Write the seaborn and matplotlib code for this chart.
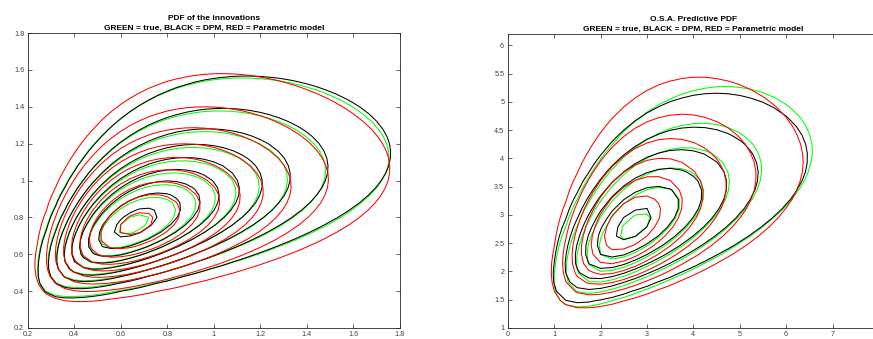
import numpy as np
import matplotlib
matplotlib.use("Agg")
import matplotlib.pyplot as plt
import seaborn as sns
from matplotlib.ticker import FormatStrFormatter

# ---- series (plot order: GREEN = true, BLACK = DPM, RED = Parametric model)
series_names = ["true", "DPM", "Parametric model"]
series_colors = ["#00ff00", "#000000", "#ff0000"]

# ---- left panel: PDF of the innovations (shifted bivariate log-normal densities)
innov_mode_x = [0.652, 0.657, 0.664]
innov_mode_y = [0.760, 0.767, 0.764]
innov_shift_x = [0.0, 0.0, -0.05]
innov_shift_y = [0.0, -0.05, -0.10]
innov_sigma_x = [0.469, 0.465, 0.440]
innov_sigma_y = [0.340, 0.322, 0.315]
innov_rho = [0.55, 0.56, 0.45]
innov_nlevels = 9
innov_top_level = [0.978, 0.955, 0.975]   # highest contour as a fraction of the peak

# ---- right panel: O.S.A. predictive PDF
pred_mode_x = [2.72, 2.68, 2.62]
pred_mode_y = [2.79, 2.82, 2.82]
pred_shift_x = [-0.4, -0.4, -0.4]
pred_shift_y = [-0.5, -0.5, -0.5]
pred_sigma_x = [0.420, 0.417, 0.412]
pred_sigma_y = [0.294, 0.277, 0.297]
pred_rho = [0.61, 0.58, 0.50]
pred_nlevels = 6
pred_top_level = [0.967, 0.956, 0.89]

titles = ["PDF of the innovations", "O.S.A. Predictive PDF"]
subtitle = "GREEN = true, BLACK = DPM, RED = Parametric model"


def lognormal_pdf(X, Y, mode_x, mode_y, shift_x, shift_y, sx, sy, rho):
    """Bivariate shifted log-normal density, parametrised by its joint mode."""
    cov = np.array([[sx * sx, rho * sx * sy], [rho * sx * sy, sy * sy]])
    m_star = np.array([np.log(mode_x - shift_x), np.log(mode_y - shift_y)])
    mu = m_star + cov.sum(axis=1)
    u = np.log(X - shift_x) - mu[0]
    v = np.log(Y - shift_y) - mu[1]
    det = np.linalg.det(cov)
    inv = np.linalg.inv(cov)
    q = inv[0, 0] * u * u + 2 * inv[0, 1] * u * v + inv[1, 1] * v * v
    return np.exp(-0.5 * q) / (2 * np.pi * np.sqrt(det)) / ((X - shift_x) * (Y - shift_y))


def auto_levels(Z, n, top):
    return Z.max() * top * np.arange(1, n + 1) / n


sns.set_theme(style="ticks")
plt.rcParams["font.family"] = ["Liberation Sans", "DejaVu Sans"]
plt.rcParams["xtick.direction"] = "in"
plt.rcParams["ytick.direction"] = "in"

W, H = 873, 339
fig = plt.figure(figsize=(W / 100, H / 100), dpi=100)

ax1 = fig.add_axes([27.7 / W, (H - 328) / H, (400 - 27.7) / W, (328 - 33) / H])
ax2 = fig.add_axes([507.7 / W, (H - 328) / H, (879 - 507.7) / W, (328 - 34) / H])

# evaluation grids
gx1, gy1 = np.meshgrid(np.linspace(0.2, 1.8, 41), np.linspace(0.2, 1.8, 41))
gx2, gy2 = np.meshgrid(np.linspace(0.0, 8.0, 33), np.linspace(1.0, 6.2, 33))

for i in range(3):
    Z = lognormal_pdf(gx1, gy1, innov_mode_x[i], innov_mode_y[i], innov_shift_x[i],
                      innov_shift_y[i], innov_sigma_x[i], innov_sigma_y[i], innov_rho[i])
    ax1.contour(gx1, gy1, Z, levels=auto_levels(Z, innov_nlevels, innov_top_level[i]),
                colors=series_colors[i], linewidths=0.75)

    Z2 = lognormal_pdf(gx2, gy2, pred_mode_x[i], pred_mode_y[i], pred_shift_x[i],
                       pred_shift_y[i], pred_sigma_x[i], pred_sigma_y[i], pred_rho[i])
    ax2.contour(gx2, gy2, Z2, levels=auto_levels(Z2, pred_nlevels, pred_top_level[i]),
                colors=series_colors[i], linewidths=0.75)

ax1.set_xlim(0.2, 1.8)
ax1.set_ylim(0.2, 1.8)
ax1.set_xticks(np.arange(0.2, 1.81, 0.2))
ax1.set_yticks(np.arange(0.2, 1.81, 0.2))
ax2.set_xlim(0, 8)
ax2.set_ylim(1, 6.2)
ax2.set_xticks(np.arange(0, 7.1, 1))
ax2.set_yticks(np.arange(1, 6.01, 0.5))

for ax, t in zip([ax1, ax2], titles):
    ax.xaxis.set_major_formatter(FormatStrFormatter("%g"))
    ax.yaxis.set_major_formatter(FormatStrFormatter("%g"))
    ax.tick_params(axis="both", which="both", direction="in", length=3, width=0.5,
                   top=True, right=True, labelsize=5.2, labelcolor="#404040",
                   color="#262626", pad=2.5)
    for s in ax.spines.values():
        s.set_visible(True)
        s.set_color("#262626")
        s.set_linewidth(0.6)
    ax.set_title(t + "\n" + subtitle, fontsize=6, fontweight="bold",
                 linespacing=1.45, pad=2.5, color="#000000")
    ax.grid(False)

fig.savefig("out.png", dpi=100)
